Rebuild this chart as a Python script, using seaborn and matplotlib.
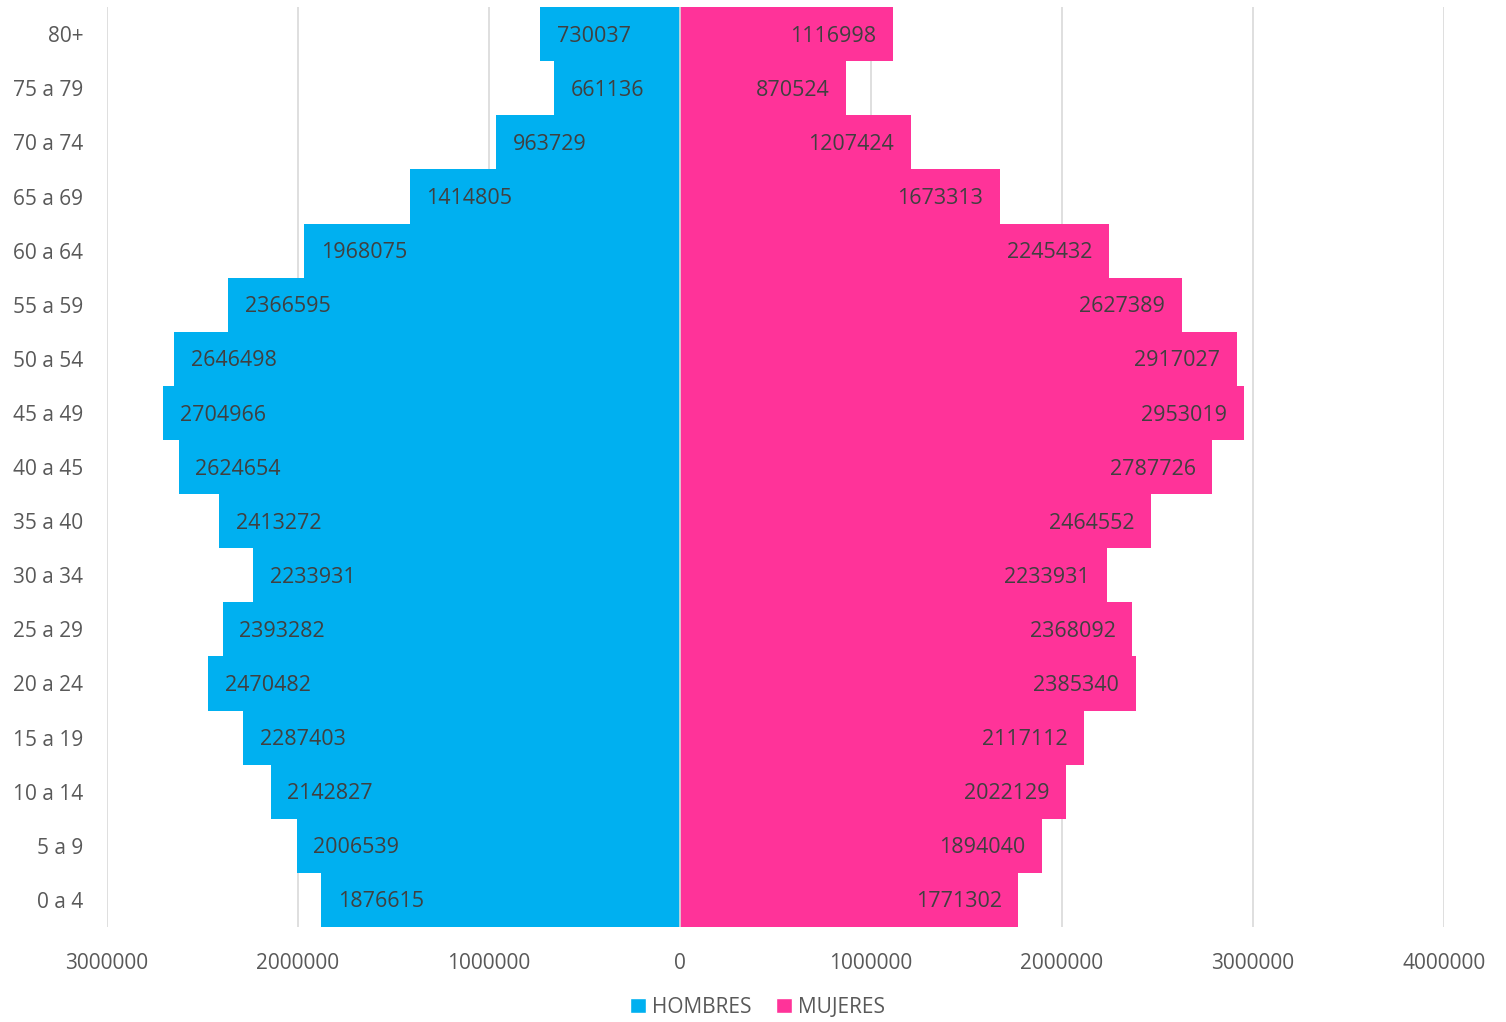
import matplotlib
matplotlib.use("Agg")
import matplotlib.pyplot as plt
import seaborn as sns
import pandas as pd
from matplotlib.patches import Patch

age_groups = ["80+", "75 a 79", "70 a 74", "65 a 69", "60 a 64", "55 a 59", "50 a 54",
              "45 a 49", "40 a 45", "35 a 40", "30 a 34", "25 a 29", "20 a 24",
              "15 a 19", "10 a 14", "5 a 9", "0 a 4"]
hombres = [730037, 661136, 963729, 1414805, 1968075, 2366595, 2646498, 2704966,
           2624654, 2413272, 2233931, 2393282, 2470482, 2287403, 2142827, 2006539, 1876615]
mujeres = [1116998, 870524, 1207424, 1673313, 2245432, 2627389, 2917027, 2953019,
           2787726, 2464552, 2233931, 2368092, 2385340, 2117112, 2022129, 1894040, 1771302]
x_ticks = [-3000000, -2000000, -1000000, 0, 1000000, 2000000, 3000000, 4000000]
x_tick_labels = ["3000000", "2000000", "1000000", "0", "1000000", "2000000", "3000000", "4000000"]

blue = "#00B0F0"
pink = "#FF3399"

sns.set_theme(style="white")
plt.rcParams['font.family'] = ['Open Sans', 'DejaVu Sans']

df = pd.DataFrame({
    "edad": age_groups * 2,
    "valor": [-v for v in hombres] + mujeres,
    "sexo": ["HOMBRES"] * len(hombres) + ["MUJERES"] * len(mujeres),
})

fig = plt.figure(figsize=(15.06, 10.22), dpi=100)
ax = fig.add_axes([0.071, 0.093, 0.8878, 0.9])

sns.barplot(data=df, x="valor", y="edad", hue="sexo", order=age_groups,
            hue_order=["HOMBRES", "MUJERES"], palette=[blue, pink],
            dodge=False, width=1.0, orient="h", ax=ax, legend=False,
            saturation=1, linewidth=0, zorder=2)

ax.set_xlim(-3000000, 4000000)
ax.set_ylim(len(age_groups) - 0.5, -0.5)
ax.set_xticks(x_ticks)
ax.set_xticklabels(x_tick_labels)
ax.tick_params(axis="x", colors="#595959", labelsize=15, length=0, pad=19)
ax.tick_params(axis="y", colors="#595959", labelsize=15, length=0, pad=17)
for lbl in ax.get_yticklabels():
    lbl.set_va("center_baseline")
ax.set_xlabel("")
ax.set_ylabel("")
for s in ax.spines.values():
    s.set_visible(False)
ax.xaxis.grid(True, color="#D9D9D9", linewidth=1.2, zorder=0)
ax.set_axisbelow(True)
ax.axvline(0, color="#D9D9D9", linewidth=1.2, zorder=3)

for i, (h, m) in enumerate(zip(hombres, mujeres)):
    ax.annotate(str(h), xy=(-h, i), xytext=(12, -1.5), textcoords="offset points",
                ha="left", va="center", fontsize=15.5, color="#404040", zorder=4)
    ax.annotate(str(m), xy=(m, i), xytext=(-12, -1.5), textcoords="offset points",
                ha="right", va="center", fontsize=15.5, color="#404040", zorder=4)

handles = [Patch(facecolor=blue, label="HOMBRES"), Patch(facecolor=pink, label="MUJERES")]
fig.legend(handles=handles, loc="lower center", bbox_to_anchor=(0.503, -0.014), ncol=2,
           frameon=False, fontsize=15, labelcolor="#595959", handlelength=0.75,
           handleheight=0.75, handletextpad=0.3, columnspacing=1.2)

fig.savefig("out.png", dpi=100)
